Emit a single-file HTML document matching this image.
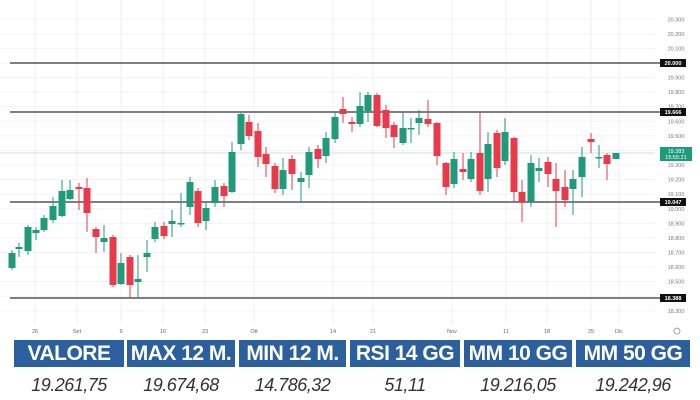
<!DOCTYPE html>
<html><head><meta charset="utf-8"><style>
body{margin:0;width:700px;height:400px;background:#fff;overflow:hidden;font-family:"Liberation Sans",sans-serif}
svg{position:absolute;left:0;top:0}
.tb{position:absolute;top:340px;height:27px;background:#2c5f9e;color:#fff;font-weight:bold;font-size:21px;text-align:center;line-height:27px;font-family:"Liberation Sans Narrow","Liberation Sans",sans-serif;letter-spacing:-0.5px}
.tv{position:absolute;top:372px;height:26px;color:#333;font-style:italic;font-size:18px;text-align:center;line-height:26px;letter-spacing:-0.5px}
</style></head><body>
<svg id="s" width="700" height="400" xmlns="http://www.w3.org/2000/svg"></svg>
<div class="tb" style="left:14px;width:110px">VALORE</div>
<div class="tb" style="left:127px;width:108px">MAX 12 M.</div>
<div class="tb" style="left:239px;width:107px">MIN 12 M.</div>
<div class="tb" style="left:350px;width:110px">RSI 14 GG</div>
<div class="tb" style="left:464px;width:108px">MM 10 GG</div>
<div class="tb" style="left:576px;width:114px">MM 50 GG</div>
<div class="tv" style="left:14px;width:110px">19.261,75</div>
<div class="tv" style="left:127px;width:108px">19.674,68</div>
<div class="tv" style="left:239px;width:107px">14.786,32</div>
<div class="tv" style="left:350px;width:110px">51,11</div>
<div class="tv" style="left:464px;width:108px">19.216,05</div>
<div class="tv" style="left:576px;width:114px">19.242,96</div>
<script>
var s=document.getElementById('s'),h='';
function y(v){return 63+(20000-v)*0.14578;}
// grid
[35,77,121,163,205,254,333,373,452,506,547,591,619].forEach(function(x){h+='<line x1="'+x+'" y1="0" x2="'+x+'" y2="325" stroke="#f1f1f1"/>';});
for(var v=20300;v>=18300;v-=100){var yy=y(v);h+='<line x1="0" y1="'+yy+'" x2="655" y2="'+yy+'" stroke="#f3f3f3"/>';
h+='<text x="676" y="'+(yy+2)+'" font-size="5.5" fill="#777" text-anchor="middle">'+(v/1000).toFixed(3)+'</text>';}
h+='<line x1="0" y1="153" x2="655" y2="153" stroke="#b8ddd4" stroke-width="0.8"/>';
[[63,'20.000'],[112,'19.666'],[202,'19.047'],[298,'18.388']].forEach(function(a){
h+='<line x1="10" y1="'+a[0]+'" x2="660" y2="'+a[0]+'" stroke="#555" stroke-width="1.5"/>';
h+='<rect x="660" y="'+(a[0]-4)+'" width="26" height="8" fill="#111"/><text x="673" y="'+(a[0]+2)+'" font-size="5.5" fill="#fff" font-weight="bold" text-anchor="middle">'+a[1]+'</text>';});
h+='<rect x="660" y="147" width="32" height="14" fill="#1e9a7c"/><text x="676" y="153" font-size="5.5" fill="#fff" text-anchor="middle">19.383</text><text x="676" y="159" font-size="5.5" fill="#fff" text-anchor="middle">15:55:21</text>';
var c=[
[12,'g',253,268,250,270],[19,'g',247,249,243,257],[28,'g',227,251,225,255],[36,'g',230,233,227,240],[44,'g',218,230,215,232],[53,'g',206,220,197,223],[62,'g',191,216,180,217],[70,'g',190,199,180,200],[79,'r',187,189,183,210],[87,'r',188,213,178,232],
[96,'r',229,237,227,253],[104,'g',238,242,225,252],[113,'r',237,285,235,287],[121,'g',263,284,253,285],[130,'r',257,285,255,298],[138,'g',279,282,255,298],[147,'g',253,257,240,272],[155,'g',227,239,222,242],[164,'r',226,236,222,239],[172,'g',221,224,210,237],
[181,'g',223,224,193,227],[190,'g',182,207,177,215],[198,'r',191,223,188,227],[206,'g',208,221,202,230],[215,'g',187,203,180,207],[224,'r',186,196,183,207],[232,'g',152,192,142,193],[241,'g',114,144,113,150],[249,'r',122,136,115,140],[258,'r',131,157,123,167],
[266,'r',154,164,147,177],[275,'r',166,189,163,193],[283,'g',170,189,158,195],[292,'r',159,174,155,190],[301,'g',178,182,172,202],[309,'g',152,175,147,188],[318,'r',149,159,145,168],[326,'g',138,156,132,163],[335,'g',117,139,112,143],[343,'r',109,114,97,123],
[352,'r',122,124,117,132],[360,'g',106,124,92,127],[368,'g',95,111,92,122],[377,'r',95,126,93,127],[386,'r',110,128,105,138],[394,'r',125,137,122,148],[403,'g',128,143,113,145],[411,'g',128,129,118,143],[419,'g',118,123,110,135],[428,'r',119,124,100,127],
[437,'r',123,156,122,165],[446,'r',163,187,162,195],[454,'g',159,184,152,188],[463,'r',169,172,153,180],[471,'g',159,179,152,182],[480,'r',153,191,113,195],[488,'g',144,179,132,192],[497,'r',133,168,130,177],[505,'g',132,161,118,165],[514,'r',138,192,137,202],
[522,'r',192,202,180,222],[531,'g',163,202,155,207],[539,'g',168,171,158,182],[548,'r',162,174,157,187],[556,'r',179,191,163,227],[565,'r',187,200,170,207],[573,'g',179,189,170,215],[582,'g',157,177,147,197],[591,'r',139,142,133,153],[599,'g',157,158,145,168],
[607,'r',155,164,153,180],[616,'g',153,159,153,159]];
c.forEach(function(k){var col=k[1]=='g'?'#1f9a7a':'#e83a4a';
h+='<line x1="'+k[0]+'" y1="'+k[4]+'" x2="'+k[0]+'" y2="'+k[5]+'" stroke="'+col+'" stroke-width="1"/>';
h+='<rect x="'+(k[0]-3.5)+'" y="'+k[2]+'" width="7" height="'+Math.max(1.5,k[3]-k[2])+'" fill="'+col+'"/>';});
[[35,'26'],[77,'Set'],[121,'9'],[163,'16'],[205,'23'],[254,'Ott'],[333,'14'],[373,'21'],[452,'Nov'],[506,'11'],[547,'18'],[591,'25'],[619,'Dic']].forEach(function(a){
h+='<text x="'+a[0]+'" y="333" font-size="5.5" fill="#666" text-anchor="middle">'+a[1]+'</text>';});
h+='<circle cx="677" cy="331" r="3" fill="none" stroke="#888" stroke-width="0.8"/>';
s.innerHTML=h;
</script>
</body></html>
